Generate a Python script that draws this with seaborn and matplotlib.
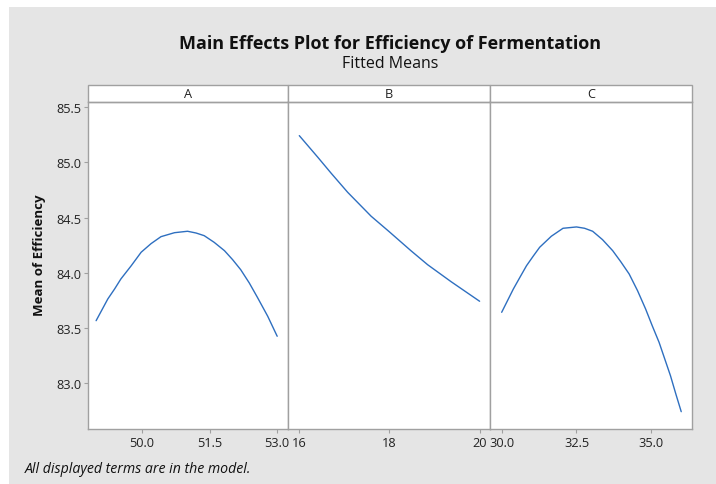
import matplotlib
matplotlib.use("Agg")
import matplotlib.pyplot as plt
import matplotlib.patches as patches
import seaborn as sns
import pandas as pd

# fitted means, one list pair per factor
a_level = [48.98, 49.24, 49.39, 49.53, 49.76, 49.98, 50.20, 50.42, 50.72, 51.01, 51.20,
           51.38, 51.60, 51.83, 52.01, 52.19, 52.38, 52.56, 52.79, 53.0]
a_mean = [83.567, 83.764, 83.854, 83.945, 84.065, 84.187, 84.265, 84.328, 84.364, 84.377, 84.361,
          84.337, 84.277, 84.201, 84.120, 84.029, 83.909, 83.779, 83.607, 83.426]

b_level = [16.01, 16.42, 16.71, 17.08, 17.60, 18.0, 18.48, 18.85, 19.37, 20.0]
b_mean = [85.243, 85.047, 84.905, 84.730, 84.513, 84.373, 84.201, 84.074, 83.920, 83.743]

c_level = [30.0, 30.39, 30.61, 30.83, 31.05, 31.27, 31.66, 32.05, 32.5, 32.77, 33.04, 33.37,
           33.71, 33.98, 34.26, 34.54, 34.81, 35.03, 35.26, 35.45, 35.64, 35.82, 36.0]
c_mean = [83.643, 83.854, 83.960, 84.065, 84.150, 84.232, 84.332, 84.404, 84.416, 84.404, 84.377, 84.301,
          84.201, 84.101, 83.990, 83.839, 83.673, 83.522, 83.371, 83.220, 83.069, 82.903, 82.743]

factors = ["A", "B", "C"]
x_ticks = [[50.0, 51.5, 53.0], [16, 18, 20], [30.0, 32.5, 35.0]]
x_ticklabels = [["50.0", "51.5", "53.0"], ["16", "18", "20"], ["30.0", "32.5", "35.0"]]
y_ticks = [83.0, 83.5, 84.0, 84.5, 85.0, 85.5]

df = pd.concat([
    pd.DataFrame({"factor": "A", "level": a_level, "mean": a_mean}),
    pd.DataFrame({"factor": "B", "level": b_level, "mean": b_mean}),
    pd.DataFrame({"factor": "C", "level": c_level, "mean": c_mean}),
])

sns.set_style("white")
plt.rcParams["font.family"] = ["Open Sans", "DejaVu Sans"]

W, H = 716, 485
fig = plt.figure(figsize=(W / 100, H / 100), dpi=100, facecolor="white")
# grey backdrop with a thin white margin on top and left
fig.patches.append(patches.Rectangle((9 / W, 0), 1, 1 - 8 / H, transform=fig.transFigure,
                                     facecolor="#e5e5e5", edgecolor="none", zorder=-10))

xlims = [(48.80, 53.24), (15.76, 20.23), (29.61, 36.36)]
edges = [88, 288, 490, 692]
bottom, top = 430, 103.3
line_col = "#2e6fc0"
frame_col = "#a0a0a0"

for i, f in enumerate(factors):
    ax = fig.add_axes([edges[i] / W, 1 - bottom / H, (edges[i + 1] - edges[i]) / W, (bottom - top) / H])
    ax.set_facecolor("white")
    sns.lineplot(data=df[df["factor"] == f], x="level", y="mean", ax=ax,
                 color=line_col, linewidth=1.0, sort=False, estimator=None)
    ax.set_xlim(*xlims[i])
    ax.set_ylim(82.586, 85.545)
    ax.set_xticks(x_ticks[i])
    ax.set_xticklabels(x_ticklabels[i])
    ax.set_yticks(y_ticks)
    ax.set_xlabel("")
    ax.set_ylabel("")
    ax.tick_params(axis="both", length=3, width=0.8, color=frame_col, labelsize=9.2,
                   labelcolor="#222222", pad=2, direction="out")
    ax.tick_params(axis="x", bottom=True)
    if i == 0:
        ax.tick_params(axis="y", left=True)
    else:
        ax.tick_params(axis="y", left=False, labelleft=False)
    for s in ax.spines.values():
        s.set_color(frame_col)
        s.set_linewidth(1.0)
    # facet strip
    sh = 17.3 / (bottom - top)
    ax.add_patch(patches.Rectangle((0, 1), 1, sh, transform=ax.transAxes, clip_on=False,
                                   facecolor="white", edgecolor=frame_col, linewidth=1.0))
    ax.text(0.5, 1 + sh / 2, f, transform=ax.transAxes, ha="center", va="center",
            fontsize=9.2, color="#222222")

fig.text(390 / W, 1 - 44 / H, "Main Effects Plot for Efficiency of Fermentation",
         ha="center", va="center", fontsize=13, fontweight="bold", color="#111111")
fig.text(390 / W, 1 - 64 / H, "Fitted Means", ha="center", va="center",
         fontsize=11.5, color="#111111")
fig.text(40 / W, 1 - 255 / H, "Mean of Efficiency", ha="center", va="center",
         rotation=90, fontsize=9.5, fontweight="bold", color="#111111")
fig.text(25 / W, 1 - 470 / H, "All displayed terms are in the model.", ha="left",
         va="center", fontsize=10.2, style="italic", color="#111111")

fig.savefig("out.png", dpi=100, facecolor=fig.get_facecolor())
